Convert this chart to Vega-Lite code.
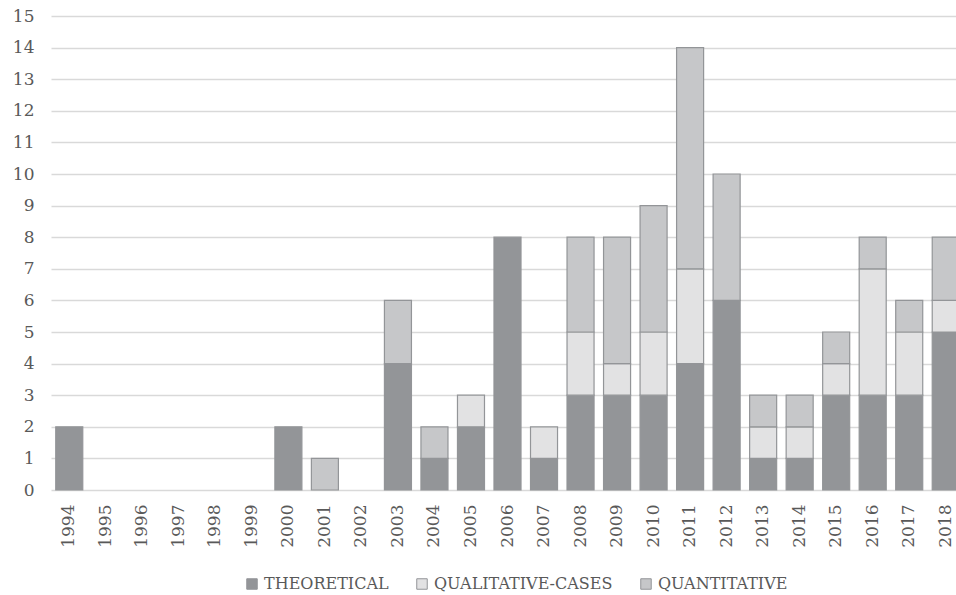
{
  "$schema": "https://vega.github.io/schema/vega-lite/v6.json",
  "width": 905,
  "height": 474,
  "autosize": {"type": "none"},
  "padding": {"left": 51, "top": 16, "right": 0, "bottom": 105},
  "background": "white",
  "config": {
    "view": {"stroke": null},
    "font": "DejaVu Serif",
    "axis": {"labelFont": "DejaVu Serif", "labelColor": "#595959", "labelFontSize": 17},
    "legend": {"labelFont": "DejaVu Serif", "labelColor": "#595959", "labelFontSize": 16}
  },
  "data": {
    "values": [
      {"year": "1994", "type": "THEORETICAL", "n": 2, "o": 1},
      {"year": "2000", "type": "THEORETICAL", "n": 2, "o": 1},
      {"year": "2001", "type": "QUANTITATIVE", "n": 1, "o": 3},
      {"year": "2003", "type": "THEORETICAL", "n": 4, "o": 1},
      {"year": "2003", "type": "QUANTITATIVE", "n": 2, "o": 3},
      {"year": "2004", "type": "THEORETICAL", "n": 1, "o": 1},
      {"year": "2004", "type": "QUANTITATIVE", "n": 1, "o": 3},
      {"year": "2005", "type": "THEORETICAL", "n": 2, "o": 1},
      {"year": "2005", "type": "QUALITATIVE-CASES", "n": 1, "o": 2},
      {"year": "2006", "type": "THEORETICAL", "n": 8, "o": 1},
      {"year": "2007", "type": "THEORETICAL", "n": 1, "o": 1},
      {"year": "2007", "type": "QUALITATIVE-CASES", "n": 1, "o": 2},
      {"year": "2008", "type": "THEORETICAL", "n": 3, "o": 1},
      {"year": "2008", "type": "QUALITATIVE-CASES", "n": 2, "o": 2},
      {"year": "2008", "type": "QUANTITATIVE", "n": 3, "o": 3},
      {"year": "2009", "type": "THEORETICAL", "n": 3, "o": 1},
      {"year": "2009", "type": "QUALITATIVE-CASES", "n": 1, "o": 2},
      {"year": "2009", "type": "QUANTITATIVE", "n": 4, "o": 3},
      {"year": "2010", "type": "THEORETICAL", "n": 3, "o": 1},
      {"year": "2010", "type": "QUALITATIVE-CASES", "n": 2, "o": 2},
      {"year": "2010", "type": "QUANTITATIVE", "n": 4, "o": 3},
      {"year": "2011", "type": "THEORETICAL", "n": 4, "o": 1},
      {"year": "2011", "type": "QUALITATIVE-CASES", "n": 3, "o": 2},
      {"year": "2011", "type": "QUANTITATIVE", "n": 7, "o": 3},
      {"year": "2012", "type": "THEORETICAL", "n": 6, "o": 1},
      {"year": "2012", "type": "QUANTITATIVE", "n": 4, "o": 3},
      {"year": "2013", "type": "THEORETICAL", "n": 1, "o": 1},
      {"year": "2013", "type": "QUALITATIVE-CASES", "n": 1, "o": 2},
      {"year": "2013", "type": "QUANTITATIVE", "n": 1, "o": 3},
      {"year": "2014", "type": "THEORETICAL", "n": 1, "o": 1},
      {"year": "2014", "type": "QUALITATIVE-CASES", "n": 1, "o": 2},
      {"year": "2014", "type": "QUANTITATIVE", "n": 1, "o": 3},
      {"year": "2015", "type": "THEORETICAL", "n": 3, "o": 1},
      {"year": "2015", "type": "QUALITATIVE-CASES", "n": 1, "o": 2},
      {"year": "2015", "type": "QUANTITATIVE", "n": 1, "o": 3},
      {"year": "2016", "type": "THEORETICAL", "n": 3, "o": 1},
      {"year": "2016", "type": "QUALITATIVE-CASES", "n": 4, "o": 2},
      {"year": "2016", "type": "QUANTITATIVE", "n": 1, "o": 3},
      {"year": "2017", "type": "THEORETICAL", "n": 3, "o": 1},
      {"year": "2017", "type": "QUALITATIVE-CASES", "n": 2, "o": 2},
      {"year": "2017", "type": "QUANTITATIVE", "n": 1, "o": 3},
      {"year": "2018", "type": "THEORETICAL", "n": 5, "o": 1},
      {"year": "2018", "type": "QUALITATIVE-CASES", "n": 1, "o": 2},
      {"year": "2018", "type": "QUANTITATIVE", "n": 2, "o": 3}
    ]
  },
  "mark": {"type": "bar", "stroke": "#939598", "strokeWidth": 1.2},
  "encoding": {
    "x": {
      "field": "year", "type": "nominal",
      "scale": {
        "domain": ["1994","1995","1996","1997","1998","1999","2000","2001","2002","2003","2004","2005","2006","2007","2008","2009","2010","2011","2012","2013","2014","2015","2016","2017","2018"],
        "range": [0, 913], "paddingInner": 0.26, "paddingOuter": 0.13
      },
      "axis": {"title": null, "labelAngle": 270, "labelAlign": "right", "labelBaseline": "middle", "labelPadding": 14, "ticks": false, "domain": false, "grid": false}
    },
    "y": {
      "field": "n", "type": "quantitative", "stack": "zero",
      "scale": {"domain": [0, 15], "nice": false},
      "axis": {"title": null, "values": [0,1,2,3,4,5,6,7,8,9,10,11,12,13,14,15], "ticks": false, "domain": false, "labelPadding": 17, "gridColor": "#d9d9d9", "gridWidth": 1.3}
    },
    "color": {
      "field": "type", "type": "nominal",
      "scale": {"domain": ["THEORETICAL", "QUALITATIVE-CASES", "QUANTITATIVE"], "range": ["#939598", "#e2e2e3", "#c6c7c9"]},
      "legend": {"title": null, "orient": "none", "direction": "horizontal", "legendX": 193, "legendY": 560, "symbolType": "square", "symbolSize": 110, "symbolStrokeColor": "#939598", "symbolStrokeWidth": 1, "columnPadding": 25, "labelOffset": 4, "labelLimit": 0}
    },
    "order": {"field": "o", "type": "quantitative"}
  }
}
